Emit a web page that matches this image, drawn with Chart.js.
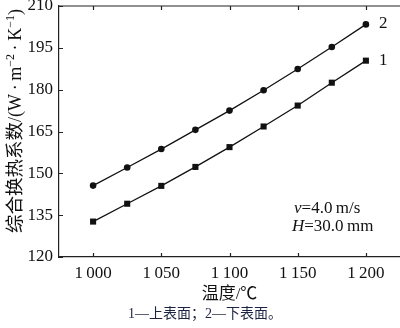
<!DOCTYPE html>
<html>
<head>
<meta charset="utf-8">
<script src="https://cdn.jsdelivr.net/npm/chart.js@4/dist/chart.umd.min.js"></script>
<style>
html,body{margin:0;padding:0;background:#fff;}
#wrap{width:400px;height:328px;position:relative;}
</style>
</head>
<body>
<div id="wrap"><canvas id="c" width="400" height="328"></canvas></div>
<script>
const temps = [1000, 1025, 1050, 1075, 1100, 1125, 1150, 1175, 1200];
const upperSurface = [132.7, 139.1, 145.5, 152.3, 159.4, 166.8, 174.3, 182.5, 190.4];
const lowerSurface = [145.6, 152.1, 158.7, 165.6, 172.5, 179.8, 187.4, 195.3, 203.4];
const xTicks = [1000, 1050, 1100, 1150, 1200];
const yTicks = [120, 135, 150, 165, 180, 195, 210];
const seriesLabels = ['1', '2'];
const xTitle = '温度/℃';
const yTitleParts = [
  {t: '综合换热系数', cjk: true},
  {t: '/(W\u2009·\u2009m'}, {t: '−2', sup: true},
  {t: '\u2009·\u2009K'}, {t: '−1', sup: true}, {t: ')'}
];
const caption = '1—上表面；2—下表面。';

const SERIF = "'Liberation Serif', 'Noto Sans CJK SC', serif";
const CJK = "'Liberation Serif', 'Noto Sans CJK SC', sans-serif";

function fmtThousands(v) {
  const s = String(v);
  return s.length > 3 ? s.slice(0, s.length - 3) + '\u2009' + s.slice(-3) : s;
}

const decorPlugin = {
  id: 'decor',
  afterDraw(chart) {
    const ctx = chart.ctx;
    const xs = chart.scales.x, ys = chart.scales.y;
    const a = chart.chartArea;
    ctx.save();
    ctx.strokeStyle = '#222';
    ctx.lineWidth = 1.2;
    ctx.beginPath();
    ctx.moveTo(a.left, a.top);
    ctx.lineTo(a.right, a.top);
    ctx.stroke();
    ctx.beginPath();
    xs.ticks.forEach(t => {
      const px = Math.round(xs.getPixelForValue(t.value)) + 0.5;
      ctx.moveTo(px, a.bottom); ctx.lineTo(px, a.bottom - 4);
      ctx.moveTo(px, a.top); ctx.lineTo(px, a.top + 4);
    });
    ys.ticks.forEach(t => {
      const py = Math.round(ys.getPixelForValue(t.value)) + 0.5;
      ctx.moveTo(a.left, py); ctx.lineTo(a.left + 4, py);
    });
    ctx.stroke();

    ctx.fillStyle = '#111';
    ctx.font = '17px ' + SERIF;
    ctx.textBaseline = 'middle';
    ctx.textAlign = 'left';
    [0, 1].forEach(i => {
      const meta = chart.getDatasetMeta(i);
      const last = meta.data[meta.data.length - 1];
      ctx.fillText(seriesLabels[i], last.x + 13, last.y - 0.5);
    });

    function drawParts(parts, x, y) {
      let cx = x;
      parts.forEach(p => {
        ctx.font = (p.italic ? 'italic ' : '') + '17px ' + SERIF;
        ctx.fillText(p.t, cx, y);
        cx += ctx.measureText(p.t).width;
      });
    }
    drawParts([{t: 'v', italic: true}, {t: '=4.0\u2009m/s'}], 294, 209);
    drawParts([{t: 'H', italic: true}, {t: '=30.0\u2009mm'}], 292, 227);

    // y title (rotated, with superscripts)
    ctx.save();
    ctx.translate(15, 121);
    ctx.rotate(-Math.PI / 2);
    ctx.fillStyle = '#111';
    ctx.textAlign = 'left';
    ctx.textBaseline = 'alphabetic';
    const fontOf = p => p.cjk ? '18.5px ' + CJK : (p.sup ? '12px ' + SERIF : '18px ' + SERIF);
    let total = 0;
    yTitleParts.forEach(p => { ctx.font = fontOf(p); total += ctx.measureText(p.t).width; });
    let cx = -total / 2;
    yTitleParts.forEach(p => {
      ctx.font = fontOf(p);
      ctx.fillText(p.t, cx, p.sup ? -1 : 6);
      cx += ctx.measureText(p.t).width;
    });
    ctx.restore();

    ctx.textAlign = 'center';
    ctx.textBaseline = 'middle';
    ctx.font = '14px ' + CJK;
    ctx.fillStyle = '#1c2340';
    ctx.fillText(caption, 205, 314);
    ctx.restore();
  }
};

new Chart(document.getElementById('c'), {
  type: 'line',
  data: {
    datasets: [
      {
        label: seriesLabels[0],
        data: temps.map((t, i) => ({x: t, y: upperSurface[i]})),
        borderColor: '#111', backgroundColor: '#111',
        borderWidth: 1.3, pointStyle: 'rect', pointRadius: 4.3,
        pointBorderWidth: 0, tension: 0
      },
      {
        label: seriesLabels[1],
        data: temps.map((t, i) => ({x: t, y: lowerSurface[i]})),
        borderColor: '#111', backgroundColor: '#111',
        borderWidth: 1.3, pointStyle: 'circle', pointRadius: 3.3,
        pointBorderWidth: 0, tension: 0
      }
    ]
  },
  options: {
    responsive: false,
    animation: false,
    events: [],
    layout: {autoPadding: false, padding: {top: 6, right: 0, left: 0, bottom: 0}},
    plugins: {legend: {display: false}, tooltip: {enabled: false}},
    scales: {
      x: {
        type: 'linear', min: 975, max: 1225,
        afterBuildTicks(s) { s.ticks = xTicks.map(v => ({value: v})); },
        afterFit(s) { s.height = 71; s.paddingLeft = 0; s.paddingRight = 0; },
        grid: {display: true, drawOnChartArea: false, drawTicks: false},
        border: {display: true, color: '#222', width: 1.2},
        ticks: {
          padding: 6, color: '#111', maxRotation: 0, autoSkip: false,
          font: {family: SERIF, size: 17},
          callback: v => fmtThousands(v)
        },
        title: {display: true, text: xTitle, color: '#111',
          font: {family: CJK, size: 17}, padding: {top: 0, bottom: 23}}
      },
      y: {
        type: 'linear', min: 120, max: 210,
        afterBuildTicks(s) { s.ticks = yTicks.map(v => ({value: v})); },
        afterFit(s) { s.width = 59; s.paddingTop = 0; s.paddingBottom = 0; },
        grid: {display: true, drawOnChartArea: false, drawTicks: false},
        border: {display: true, color: '#222', width: 1.2},
        ticks: {padding: 6, color: '#111', font: {family: SERIF, size: 17}}
      }
    }
  },
  plugins: [decorPlugin]
});
</script>
</body>
</html>
